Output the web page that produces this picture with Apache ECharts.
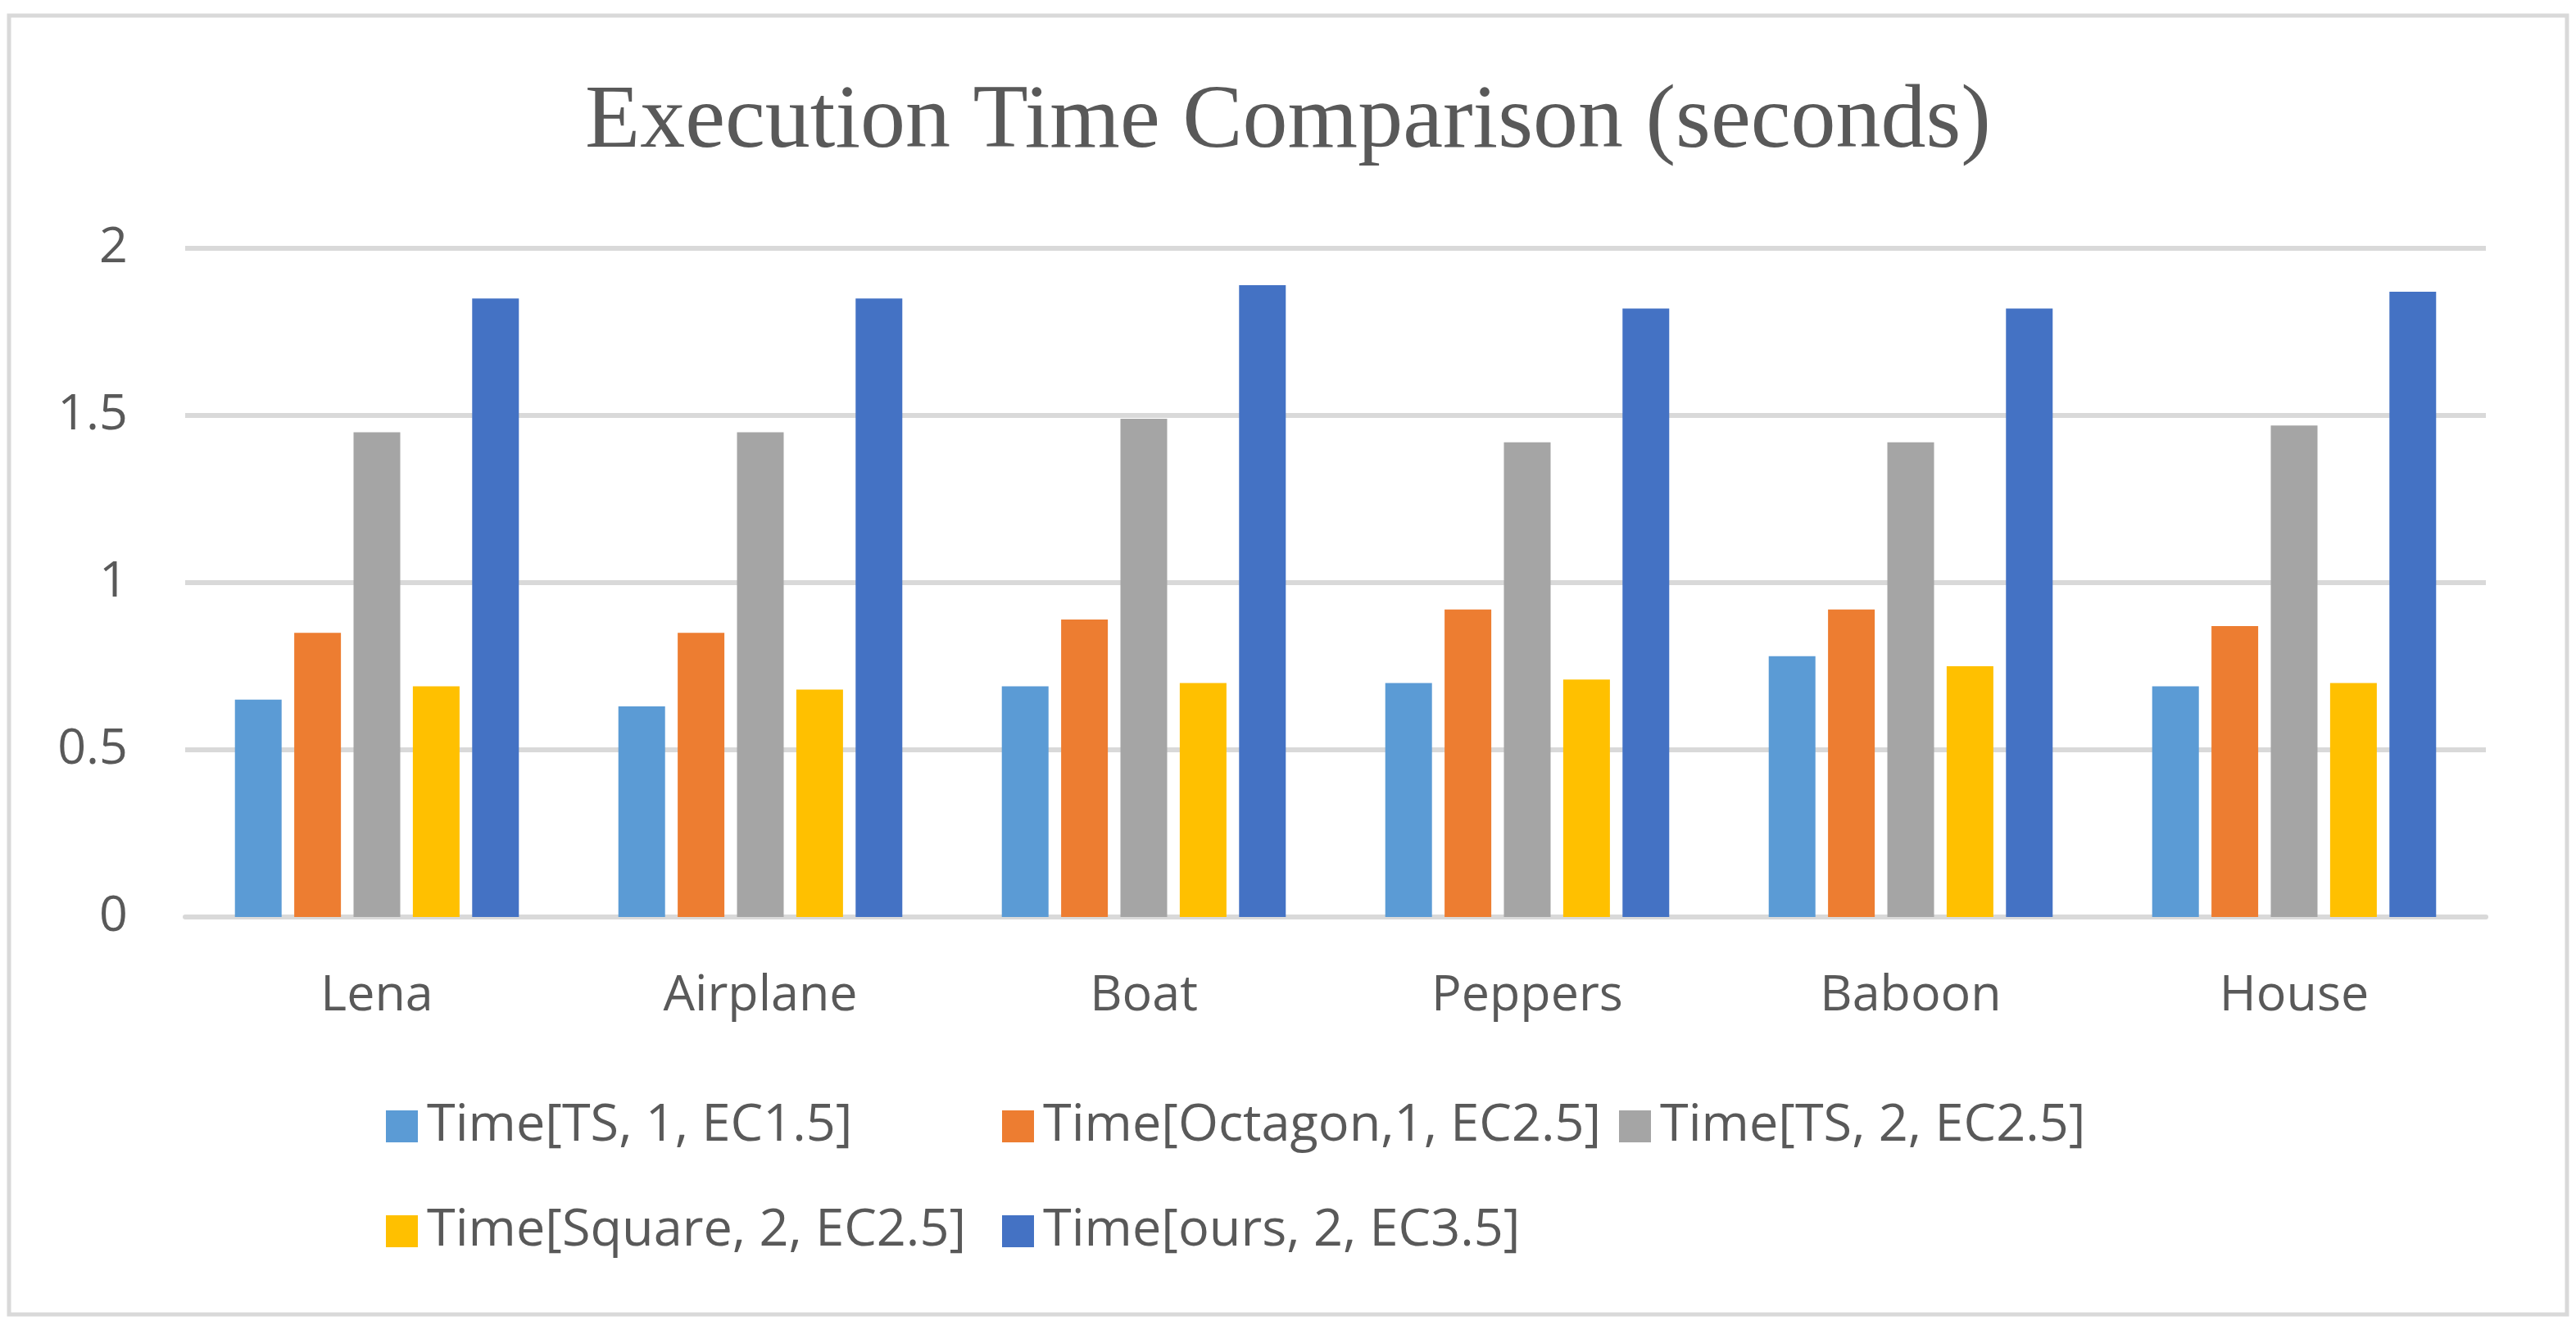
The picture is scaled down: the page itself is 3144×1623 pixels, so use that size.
<!DOCTYPE html>
<html>
<head>
<meta charset="utf-8">
<script src="https://cdn.jsdelivr.net/npm/echarts@6/dist/echarts.min.js"></script>
<style>
html,body{margin:0;padding:0;background:#fff;}
#chart{width:3144px;height:1623px;}
</style>
</head>
<body>
<div id="chart"></div>
<script>
const titleText = 'Execution Time Comparison (seconds)';
const categories = ['Lena', 'Airplane', 'Boat', 'Peppers', 'Baboon', 'House'];
const seriesNames = ['Time[TS, 1, EC1.5]', 'Time[Octagon,1, EC2.5]', 'Time[TS, 2, EC2.5]', 'Time[Square, 2, EC2.5]', 'Time[ours, 2, EC3.5]'];
const tsEc15 = [0.65, 0.63, 0.69, 0.70, 0.78, 0.69];
const octagonEc25 = [0.85, 0.85, 0.89, 0.92, 0.92, 0.87];
const tsEc25 = [1.45, 1.45, 1.49, 1.42, 1.42, 1.47];
const squareEc25 = [0.69, 0.68, 0.70, 0.71, 0.75, 0.70];
const oursEc35 = [1.85, 1.85, 1.89, 1.82, 1.82, 1.87];
const yTicks = [0, 0.5, 1, 1.5, 2];
const colors = ['#5B9BD5', '#ED7D31', '#A5A5A5', '#FFC000', '#4472C4'];

const seriesData = [tsEc15, octagonEc25, tsEc25, squareEc25, oursEc35];
const sansFont = '"Open Sans", "Noto Sans", sans-serif';
const textColor = '#595959';

const legendPos = [
  {left: 466, top: 1338},
  {left: 1218, top: 1338},
  {left: 1971, top: 1338},
  {left: 466, top: 1466},
  {left: 1218, top: 1466}
];

const chart = echarts.init(document.getElementById('chart'), null, {renderer: 'canvas'});
chart.setOption({
  animation: false,
  backgroundColor: '#ffffff',
  color: colors,
  title: {
    text: titleText,
    left: 'center',
    top: 90,
    textStyle: {fontFamily: '"Liberation Serif", "Times New Roman", serif', fontSize: 110, fontWeight: 'normal', color: textColor}
  },
  graphic: [{
    type: 'rect',
    shape: {x: 11, y: 19, width: 3122, height: 1585},
    style: {fill: 'none', stroke: '#D9D9D9', lineWidth: 5},
    silent: true,
    z: -1
  }],
  legend: seriesNames.map((n, i) => ({
    data: [n],
    left: legendPos[i].left,
    top: legendPos[i].top,
    orient: 'horizontal',
    icon: 'rect',
    itemWidth: 39,
    itemHeight: 39,
    selectedMode: false,
    textStyle: {fontFamily: sansFont, fontSize: 63, color: textColor, padding: [0, 0, 0, 6]}
  })),
  grid: {left: 226, right: 110, top: 303, bottom: 504, containLabel: false},
  xAxis: {
    type: 'category',
    data: categories,
    axisLine: {show: true, lineStyle: {color: '#D9D9D9', width: 6}},
    axisTick: {show: false},
    axisLabel: {fontFamily: sansFont, fontSize: 61, color: textColor, margin: 66}
  },
  yAxis: {
    type: 'value',
    min: yTicks[0],
    max: yTicks[yTicks.length - 1],
    interval: yTicks[1] - yTicks[0],
    axisLine: {show: false},
    axisTick: {show: false},
    splitLine: {lineStyle: {color: '#D9D9D9', width: 6}},
    axisLabel: {fontFamily: sansFont, fontSize: 61, color: textColor, margin: 70, formatter: v => String(v)}
  },
  series: seriesNames.map((n, i) => ({
    name: n,
    type: 'bar',
    data: seriesData[i],
    barWidth: 57,
    barGap: '27%',
    itemStyle: {color: colors[i]}
  }))
});
</script>
</body>
</html>
